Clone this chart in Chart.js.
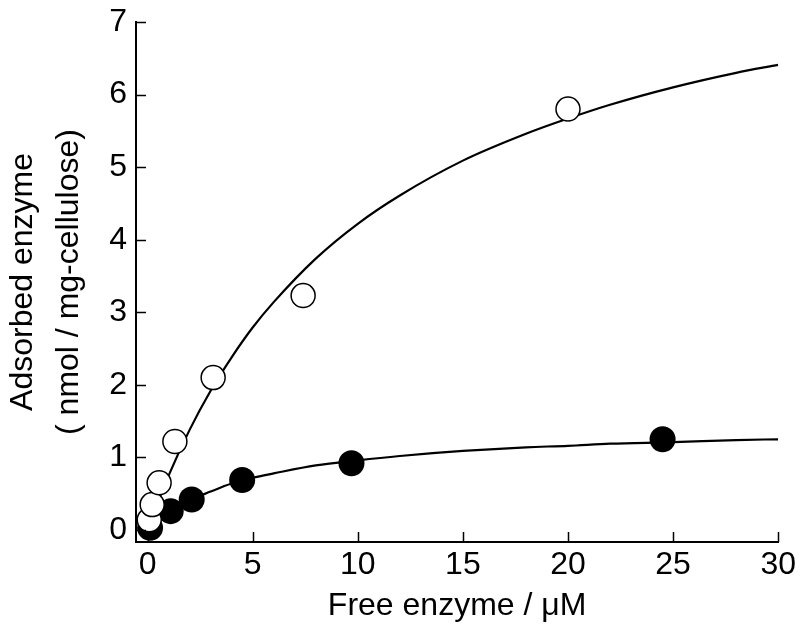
<!DOCTYPE html>
<html>
<head>
<meta charset="utf-8">
<script src="https://cdn.jsdelivr.net/npm/chart.js@4"></script>
<style>
  html, body { margin: 0; padding: 0; background: #fff; }
  #wrap { width: 800px; height: 633px; }
</style>
</head>
<body>
<div id="wrap"><canvas id="adsorptionChart" width="800" height="633"></canvas></div>
<script>
// Measured points (free enzyme uM, adsorbed nmol/mg)
const openX = [0.08, 0.22, 0.55, 1.3, 3.12, 7.4, 20.0];
const openY = [0.14, 0.35, 0.65, 1.22, 2.1, 3.23, 5.8];
const filledX = [0.12, 1.1, 2.1, 4.5, 9.7, 24.5];
const filledY = [0.03, 0.26, 0.42, 0.69, 0.92, 1.25];

// Fitted curves
const curveX = [0, 0.5, 1, 2, 3, 4, 5, 6, 8, 10, 12, 15, 18, 20, 22, 25, 28, 30];
const openCurveY = [0, 0.39, 0.75, 1.38, 1.92, 2.38, 2.79, 3.14, 3.74, 4.22, 4.61, 5.09, 5.46, 5.67, 5.86, 6.1, 6.3, 6.41];
const filledCurveY = [0, 0.13, 0.24, 0.41, 0.53, 0.64, 0.72, 0.78, 0.89, 0.96, 1.02, 1.09, 1.14, 1.16, 1.19, 1.21, 1.24, 1.25];

// Tick labels
const xTicks = [0, 5, 10, 15, 20, 25, 30];
const yTicks = [0, 1, 2, 3, 4, 5, 6, 7];

function toPoints(xs, ys) {
  return xs.map(function (x, i) { return { x: x, y: ys[i] }; });
}

// Draw short ticks pointing into the plot
const innerTicks = {
  id: "innerTicks",
  afterDraw: function (chart) {
    const ctx = chart.ctx;
    const xs = chart.scales.x;
    const ys = chart.scales.y;
    const area = chart.chartArea;
    ctx.save();
    ctx.strokeStyle = "#000";
    ctx.lineWidth = 1.5;
    ctx.beginPath();
    xTicks.forEach(function (v) {
      const px = Math.round(xs.getPixelForValue(v)) + 0.5;
      ctx.moveTo(px, area.bottom);
      ctx.lineTo(px, area.bottom - 10);
    });
    yTicks.forEach(function (v) {
      const py = Math.round(ys.getPixelForValue(v)) + 0.5;
      ctx.moveTo(area.left, py);
      ctx.lineTo(area.left + 10, py);
    });
    ctx.stroke();
    ctx.restore();
  },
};

const font = { family: "Arial, 'Liberation Sans', sans-serif", size: 32 };

new Chart(document.getElementById("adsorptionChart"), {
  type: "scatter",
  data: {
    datasets: [
      {
        label: "open",
        data: toPoints(openX, openY),
        pointRadius: 12,
        pointHoverRadius: 12,
        pointBackgroundColor: "#fff",
        pointBorderColor: "#000",
        pointBorderWidth: 1.5,
        order: 0,
      },
      {
        label: "filled",
        data: toPoints(filledX, filledY),
        pointRadius: 13,
        pointHoverRadius: 13,
        pointBackgroundColor: "#000",
        pointBorderColor: "#000",
        pointBorderWidth: 0,
        order: 1,
      },
      {
        label: "open fit",
        data: toPoints(curveX, openCurveY),
        showLine: true,
        borderColor: "#000",
        borderWidth: 2.2,
        pointRadius: 0,
        cubicInterpolationMode: "monotone",
        order: 2,
      },
      {
        label: "filled fit",
        data: toPoints(curveX, filledCurveY),
        showLine: true,
        borderColor: "#000",
        borderWidth: 2.2,
        pointRadius: 0,
        cubicInterpolationMode: "monotone",
        order: 2,
      },
    ],
  },
  options: {
    responsive: false,
    animation: false,
    layout: { padding: { top: 22, right: 21, bottom: 0, left: 0 } },
    plugins: { legend: { display: false }, tooltip: { enabled: false } },
    scales: {
      x: {
        type: "linear",
        min: -0.55,
        max: 30,
        afterFit: function (s) { s.height = 91; },
        afterBuildTicks: function (s) {
          s.ticks = xTicks.map(function (v) { return { value: v }; });
        },
        grid: { display: false, drawTicks: false },
        border: { display: true, color: "#000", width: 2 },
        ticks: { color: "#000", font: font, padding: 4, maxRotation: 0 },
        title: {
          display: true,
          text: "Free enzyme / \u03bcM",
          color: "#000",
          font: font,
          padding: { top: 0, bottom: 8 },
        },
      },
      y: {
        type: "linear",
        min: -0.165,
        max: 7,
        afterFit: function (s) {
          s.width = 136;
          s.paddingTop = 0;
        },
        afterBuildTicks: function (s) {
          s.ticks = yTicks.map(function (v) { return { value: v }; });
        },
        grid: { display: false, drawTicks: false },
        border: { display: true, color: "#000", width: 2 },
        ticks: { color: "#000", font: font, padding: 9 },
        title: {
          display: true,
          text: ["Adsorbed enzyme", "( nmol / mg-cellulose)"],
          color: "#000",
          font: { family: font.family, size: 32, lineHeight: 1.44 },
          padding: { top: 0, bottom: 0 },
        },
      },
    },
  },
  plugins: [innerTicks],
});
</script>
</body>
</html>
